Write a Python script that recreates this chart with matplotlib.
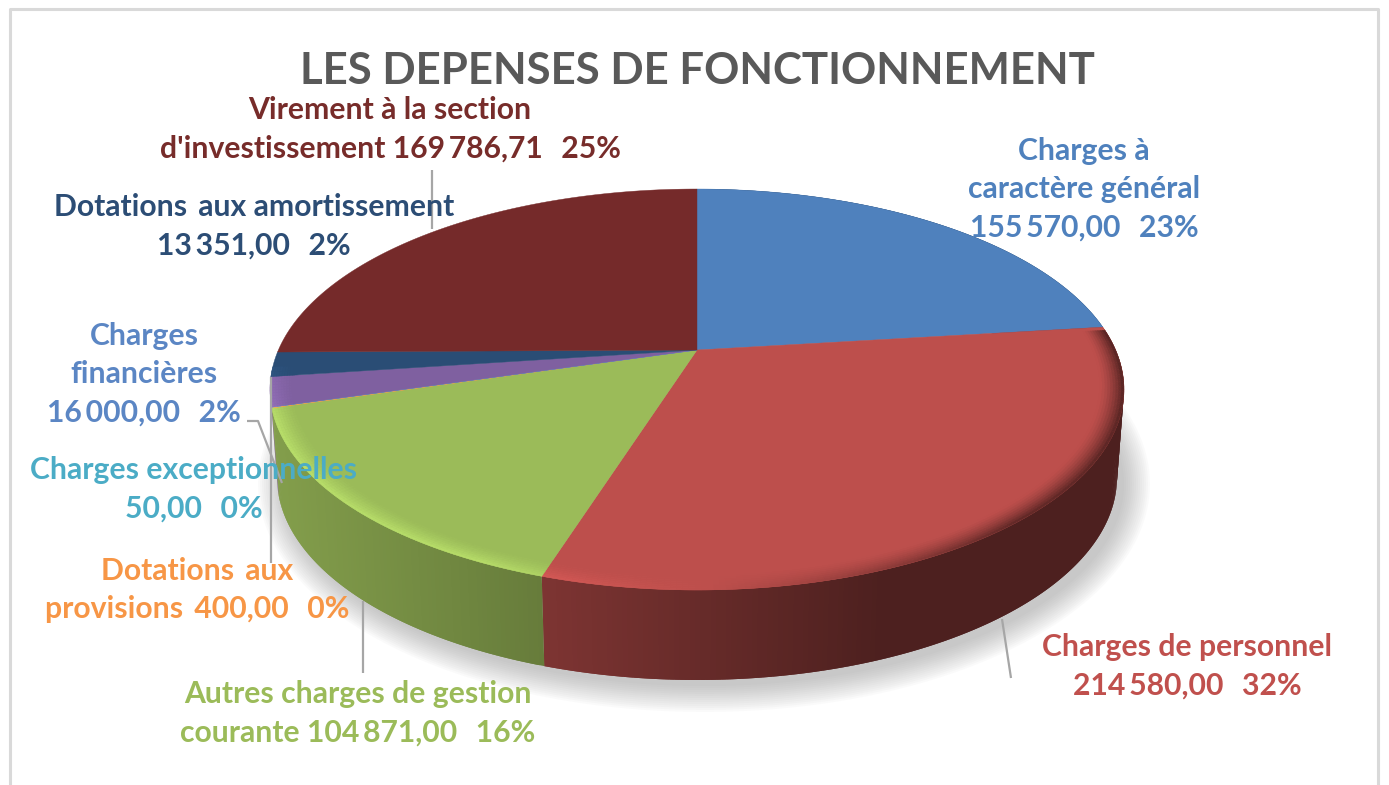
import numpy as np
import matplotlib
matplotlib.use('Agg')
import matplotlib.pyplot as plt
from matplotlib.collections import PolyCollection
from matplotlib.colors import to_rgb

plt.rcParams['font.family'] = ['Lato', 'DejaVu Sans']

# clockwise from the top of the pie
categories = ['Charges à caractère général', 'Charges de personnel',
              'Autres charges de gestion courante', 'Dotations aux provisions',
              'Charges exceptionnelles', 'Charges financières',
              'Dotations aux amortissement', 'Virement à la section d\'investissement']
values = [155570.00, 214580.00, 104871.00, 400.00, 50.00, 16000.00, 13351.00, 169786.71]
colors = ['#4f81bd', '#bd4f4c', '#9bbb59', '#f79646', '#4bacc6', '#7f60a0', '#2a4d75', '#752a2a']

title = 'LES DEPENSES DE FONCTIONNEMENT'
label_texts = ['Charges à\ncaractère général\n155\u2009570,00  \u200923%',
               'Charges de personnel\n214\u2009580,00  \u200932%',
               'Autres charges de gestion\ncourante 104\u2009871,00  \u200916%',
               'Dotations \u2009aux\nprovisions \u2009400,00  \u20090%',
               'Charges exceptionnelles\n50,00  \u20090%',
               'Charges\nfinancières\n16\u2009000,00  \u20092%',
               'Dotations \u2009aux amortissement\n13\u2009351,00  \u20092%',
               'Virement à la section\nd\'investissement 169\u2009786,71  \u200925%']
label_colors = ['#4f81bd', '#c0504d', '#9bbb59', '#f79646', '#4bacc6', '#5b86c4', '#2c4d75', '#772c2a']
label_pos = [(1084, 189), (1187, 666), (358, 713), (197, 590), (194, 489), (144, 374), (254, 226), (390, 129)]

leaders = [[(1002, 619), (1011, 678)],
           [(363, 601), (363, 673)],
           [(271, 377), (271, 563)],
           [(247, 421), (258, 421), (282, 483)],
           [(432, 170), (432, 229)]]

# perspective of the disc, in pixels
cx, cy = 697, 350
a, b, k = 418.6, 192.7, 0.197


def top_point(t, s=1.0):
    u, v = s * np.sin(t), s * np.cos(t)
    w = 1 + k * v
    return cx + a * u / w, cy - b * v / w


def bottom_point(t):
    x, y = top_point(t)
    return cx + (x - cx) * 420 / 427, 478 + (y - 390) * 1.01


def wall_shade(x):
    return np.interp(x, [280, 546, 880], [0.84, 0.66, 0.41])


def rim_mix(deg):
    # <0 darkens towards the wall, >0 lights up
    return np.interp(deg, [84, 140, 185, 205, 250, 265], [-1, -0.9, 0.15, 0.75, 0.8, 0.3])


fig = plt.figure(figsize=(13.89, 7.85), dpi=100)
ax = fig.add_axes([0, 0, 1, 1])
ax.set_xlim(0, 1389)
ax.set_ylim(785, 0)
ax.axis('off')

# chart frame
ax.plot([10, 10, 1378, 1378], [790, 9, 9, 790], color='#d9d9d9', lw=2.2, zorder=1)

# soft shadow
tt = np.linspace(0, 2 * np.pi, 240)
for i in range(14):
    g = 26 - i * 2
    ax.fill(704 + (420 + g) * np.cos(tt), 484 + (202 + g) * np.sin(tt),
            color='#808080', alpha=0.035, lw=0, zorder=2)

angles = np.cumsum([0] + values) / sum(values) * 2 * np.pi

# side wall, each quad runs under the next one so no seams show
wall_end = np.deg2rad(255)
wall_quads, wall_cols = [], []
for i, col in enumerate(colors):
    base = np.array(to_rgb(col))
    hi = min(angles[i + 1], wall_end)
    if hi <= angles[i]:
        continue
    n = max(2, int((hi - angles[i]) / 0.01))
    ts = np.linspace(angles[i], hi, n)
    step = ts[1] - ts[0]
    for t0, t1 in zip(ts[:-1], ts[1:]):
        t2 = min(t1 + step, hi)
        wall_quads.append([top_point(t0), top_point(t2), bottom_point(t2), bottom_point(t0)])
        wall_cols.append(base * wall_shade(top_point((t0 + t1) / 2)[0]))
ax.add_collection(PolyCollection(wall_quads, facecolors=wall_cols, edgecolors='none', zorder=3))

# top face
for i, col in enumerate(colors):
    ts = np.linspace(angles[i], angles[i + 1], max(2, int((angles[i + 1] - angles[i]) / 0.01)))
    xs, ys = top_point(ts)
    ax.fill(np.r_[cx, xs], np.r_[cy, ys], color=col, lw=0.3, zorder=4)

# bevel along the front rim
rim_quads, rim_cols = [], []
rings = np.linspace(0.945, 1.0, 10)
for i, col in enumerate(colors):
    base = np.array(to_rgb(col))
    lo = max(angles[i], np.deg2rad(84))
    hi = min(angles[i + 1], np.deg2rad(265))
    if hi <= lo:
        continue
    ts = np.linspace(lo, hi, max(2, int((hi - lo) / 0.012)))
    for t0, t1 in zip(ts[:-1], ts[1:]):
        m = rim_mix(np.rad2deg((t0 + t1) / 2))
        for r0, r1 in zip(rings[:-1], rings[1:]):
            p = (((r0 + r1) / 2 - rings[0]) / (rings[-1] - rings[0])) ** 1.5
            target = np.clip(base * 1.25, 0, 1) if m > 0 else base * 0.42
            rim_quads.append([top_point(t0, r0), top_point(t1, r0), top_point(t1, r1), top_point(t0, r1)])
            rim_cols.append(base + (target - base) * p * abs(m))
ax.add_collection(PolyCollection(rim_quads, facecolors=rim_cols, edgecolors='face', linewidths=0.3, zorder=5))

for pts in leaders:
    ax.plot(*zip(*pts), color='#a6a6a6', lw=1.6, zorder=6, solid_capstyle='butt')

ax.text(697, 71, title, color='#595959', fontsize=31.5, fontweight='bold', ha='center', va='center', zorder=7)
for txt, col, (x, y) in zip(label_texts, label_colors, label_pos):
    ax.text(x, y, txt, color=col, fontsize=21.7, fontweight='bold', ha='center', va='center',
            linespacing=1.45, zorder=7)

fig.savefig('out.png', dpi=100)
